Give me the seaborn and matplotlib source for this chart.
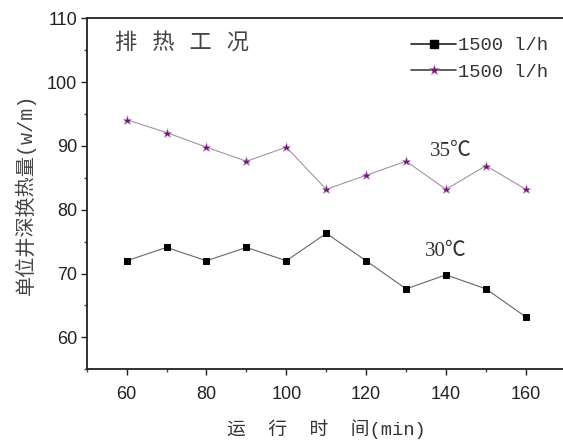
import matplotlib
matplotlib.use("Agg")
import matplotlib.pyplot as plt
from matplotlib.ticker import MultipleLocator
from matplotlib.lines import Line2D
import seaborn as sns
import pandas as pd

# Data
time_min = [60, 70, 80, 90, 100, 110, 120, 130, 140, 150, 160]
heat_30 = [72.0, 74.1, 72.0, 74.1, 72.0, 76.3, 72.0, 67.6, 69.8, 67.6, 63.2]
heat_35 = [94.1, 92.1, 89.8, 87.6, 89.8, 83.2, 85.4, 87.6, 83.2, 86.9, 83.2]
legend_labels = ["1500 l/h", "1500 l/h"]
y_ticks = [60, 70, 80, 90, 100, 110]
x_ticks = [60, 80, 100, 120, 140, 160]

sns.set_style("white")
plt.rcParams['font.family'] = ['Liberation Sans', 'Noto Sans CJK SC', 'DejaVu Sans']
MONO_CJK = ['Liberation Mono', 'Noto Sans CJK SC', 'DejaVu Sans']
SERIF_CJK = ['Liberation Serif', 'Noto Sans CJK SC', 'DejaVu Sans']

fig = plt.figure(figsize=(5.63, 4.43), dpi=100)
ax = fig.add_axes([0.154, 0.1664, 0.851, 0.7923])

df30 = pd.DataFrame({"t": time_min, "q": heat_30})
df35 = pd.DataFrame({"t": time_min, "q": heat_35})

sns.lineplot(data=df30, x="t", y="q", ax=ax, color="#666666", linewidth=0.8,
             marker="s", markersize=5, markerfacecolor="black",
             markeredgecolor="black", legend=False)
sns.lineplot(data=df35, x="t", y="q", ax=ax, color="#a890a8", linewidth=0.8,
             marker="*", markersize=6.5, markerfacecolor="#6a1a6a",
             markeredgecolor="#c890d0", markeredgewidth=0.4, legend=False)

ax.set_xlim(50, 170)
ax.set_ylim(55, 110)
ax.set_xticks(x_ticks)
ax.set_yticks(y_ticks)
ax.xaxis.set_minor_locator(MultipleLocator(10))
ax.yaxis.set_minor_locator(MultipleLocator(5))
ax.tick_params(axis='both', which='major', direction='out', length=4, width=1,
               labelsize=13, colors='#222222', left=True, bottom=True)
ax.tick_params(axis='both', which='minor', direction='out', length=2, width=1,
               left=True, bottom=True, colors='#444444')
ax.tick_params(axis='x', pad=8)
ax.tick_params(axis='y', pad=3)

for side in ['left', 'bottom', 'top']:
    ax.spines[side].set_color('#222222')
    ax.spines[side].set_linewidth(1.3)
ax.spines['right'].set_visible(False)

ax.set_xlabel("运  行  时  间(min)", fontsize=13.5, color='#333333',
              family=MONO_CJK, labelpad=12)
ax.set_ylabel("单位井深换热量(w/m)", fontsize=14.5, color='#444444',
              family=MONO_CJK, labelpad=8)

ax.text(0.06, 0.93, "排   热   工   况", transform=ax.transAxes, fontsize=16,
        color='#444444', family=['Noto Sans CJK SC', 'DejaVu Sans'],
        ha='left', va='center')

ax.text(141.3, 89.1, "35℃", fontsize=15, color='#333333',
        family=SERIF_CJK, ha='center', va='center')
ax.text(140.0, 73.4, "30℃", fontsize=15, color='#333333',
        family=SERIF_CJK, ha='center', va='center')

handles = [
    Line2D([], [], color='#222222', linewidth=1.2, marker='s', markersize=6,
           markerfacecolor='black', markeredgecolor='black'),
    Line2D([], [], color='#444444', linewidth=1.2, marker='*', markersize=8,
           markerfacecolor='#6a1a6a', markeredgecolor='#c890d0', markeredgewidth=0.4),
]
leg = fig.legend(handles, legend_labels, loc='center right',
                 bbox_to_anchor=(0.99, 0.867), bbox_transform=fig.transFigure,
                 frameon=False, prop={'family': 'Liberation Mono', 'size': 13.5},
                 handlelength=2.4, handletextpad=0.1, labelspacing=0.5,
                 borderpad=0.0, numpoints=1)
for t in leg.get_texts():
    t.set_color('#333333')

fig.savefig("out.png", dpi=100)
